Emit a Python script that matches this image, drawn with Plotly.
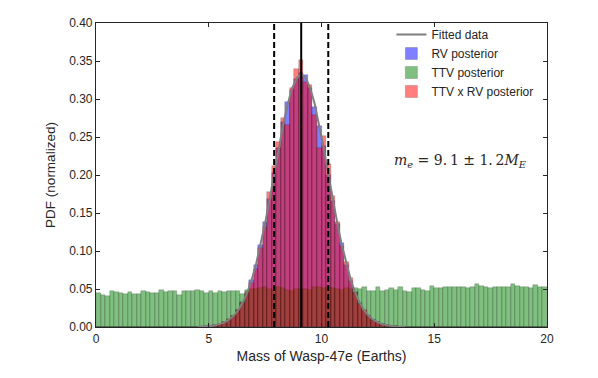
import plotly.graph_objects as go

# --- données (bins de largeur 0.2 entre 0 et 20) ---
bin_width = 0.2
bin_centers = [round(0.1 + 0.2 * i, 2) for i in range(100)]

ttv_posterior = [
    0.045, 0.042, 0.041, 0.047, 0.046, 0.045, 0.044, 0.046, 0.043, 0.044,
    0.047, 0.046, 0.045, 0.045, 0.049, 0.046, 0.047, 0.048, 0.042, 0.047,
    0.048, 0.048, 0.049, 0.047, 0.045,
    0.047, 0.045, 0.047, 0.046, 0.047, 0.048, 0.047, 0.044, 0.049,
    0.050, 0.050, 0.051, 0.052, 0.050, 0.049, 0.052, 0.051, 0.049, 0.048,
    0.050, 0.050, 0.050, 0.049, 0.052, 0.053, 0.051, 0.052, 0.051, 0.050,
    0.049, 0.051, 0.050,
    0.051, 0.050, 0.052, 0.048, 0.048, 0.053, 0.048, 0.049, 0.051, 0.049,
    0.052, 0.047, 0.046, 0.051, 0.051, 0.049, 0.048, 0.054, 0.051, 0.051,
    0.053, 0.052, 0.052, 0.052, 0.052, 0.051, 0.052, 0.056, 0.054, 0.052,
    0.051, 0.053, 0.053, 0.053, 0.052, 0.056, 0.054, 0.053, 0.052, 0.051,
    0.055, 0.052, 0.052,
]

rv_posterior = [0.0] * 24 + [
    0.001, 0.001, 0.002, 0.003, 0.006, 0.009, 0.015, 0.023, 0.033, 0.044,
    0.062, 0.081, 0.108, 0.138, 0.168, 0.203, 0.236, 0.270, 0.296, 0.312,
    0.326, 0.334, 0.331, 0.314, 0.290, 0.264, 0.238, 0.200, 0.166, 0.136,
    0.110, 0.082, 0.060, 0.046, 0.031, 0.021, 0.015, 0.009, 0.006, 0.004,
    0.002, 0.001, 0.001,
] + [0.0] * 33

combined_posterior = [0.0] * 24 + [
    0.001, 0.001, 0.002, 0.004, 0.006, 0.010, 0.015, 0.022, 0.031, 0.046,
    0.058, 0.076, 0.104, 0.132, 0.178, 0.212, 0.244, 0.275, 0.266, 0.315,
    0.340, 0.351, 0.322, 0.318, 0.279, 0.236, 0.251, 0.215, 0.172, 0.138,
    0.106, 0.085, 0.064, 0.045, 0.030, 0.022, 0.014, 0.009, 0.006, 0.004,
    0.002, 0.001, 0.001,
] + [0.0] * 33

# courbe ajustée (gaussienne 9.1 +/- 1.2), valeurs relevées tous les 0.2
fit_x = [round(4.5 + 0.2 * i, 2) for i in range(47)]
fit_y = [
    0.0002, 0.0004, 0.0007, 0.0013, 0.0022, 0.0037, 0.0060, 0.0095, 0.0146, 0.0219,
    0.0318, 0.0450, 0.0619, 0.0829, 0.1080, 0.1367, 0.1683, 0.2017, 0.2350, 0.2662,
    0.2934, 0.3145, 0.3279, 0.3325, 0.3279, 0.3145, 0.2934, 0.2662, 0.2350, 0.2017,
    0.1683, 0.1367, 0.1080, 0.0829, 0.0619, 0.0450, 0.0318, 0.0219, 0.0146, 0.0095,
    0.0060, 0.0037, 0.0022, 0.0013, 0.0007, 0.0004, 0.0002,
]

m_mean = 9.1
m_err = 1.2

font_family = "Liberation Sans, Arial, sans-serif"
ink = "#262626"
edge = "rgba(0,0,0,0.35)"

fig = go.Figure()

fig.add_trace(go.Scatter(
    x=fit_x, y=fit_y, name="Fitted data", mode="lines",
    line=dict(color="#7f7f7f", width=2),
))
fig.add_trace(go.Bar(
    x=bin_centers, y=rv_posterior, width=bin_width, name="RV posterior",
    marker=dict(color="rgba(0,0,255,0.5)", line=dict(color=edge, width=0.5)),
))
fig.add_trace(go.Bar(
    x=bin_centers, y=ttv_posterior, width=bin_width, name="TTV posterior",
    marker=dict(color="rgba(0,128,0,0.5)", line=dict(color=edge, width=0.5)),
))
fig.add_trace(go.Bar(
    x=bin_centers, y=combined_posterior, width=bin_width, name="TTV x RV posterior",
    marker=dict(color="rgba(255,0,0,0.5)", line=dict(color=edge, width=0.5)),
))

# traits verticaux : moyenne et +/- 1 sigma
fig.add_vline(x=m_mean, line=dict(color="black", width=2))
for xv in (m_mean - m_err, m_mean + m_err):
    fig.add_vline(x=xv, line=dict(color="black", width=2, dash="6px,3px"))

fig.add_annotation(
    x=16.15, y=0.219, xref="x", yref="y", showarrow=False,
    text="<i>m</i><sub><i>e</i></sub> = 9.\u20091 \u00b1 1.\u20092<i>M</i><sub><i>E</i></sub>",
    font=dict(family="DejaVu Serif, Liberation Serif, serif", size=14, color=ink),
)

axis_common = dict(
    showline=True, linecolor=ink, linewidth=1.2, mirror="ticks",
    ticks="inside", ticklen=4, tickcolor=ink, tickwidth=1,
    showgrid=False, zeroline=False,
    tickfont=dict(family=font_family, size=12, color=ink),
)

# la page ajoute ~8 px de marge autour du graphique : on compense
fig.update_layout(
    width=590, height=370,
    margin=dict(l=88, r=51, t=8, b=51),
    paper_bgcolor="white", plot_bgcolor="white",
    barmode="overlay", bargap=0,
    showlegend=True,
    legend=dict(
        x=0.655, y=1.01, xanchor="left", yanchor="top",
        bgcolor="rgba(0,0,0,0)", borderwidth=0,
        font=dict(family=font_family, size=12, color=ink),
        traceorder="normal",
    ),
    xaxis=dict(
        range=[0, 20], tickvals=[0, 5, 10, 15, 20],
        title=dict(text="Mass of Wasp-47e (Earths)", standoff=6,
                   font=dict(family=font_family, size=14, color=ink)),
        **axis_common,
    ),
    yaxis=dict(
        range=[0, 0.4], dtick=0.05, tickformat=".2f",
        title=dict(text="PDF (normalized)", standoff=10,
                   font=dict(family=font_family, size=13.5, color=ink)),
        **axis_common,
    ),
)

fig.write_html("out.html")
